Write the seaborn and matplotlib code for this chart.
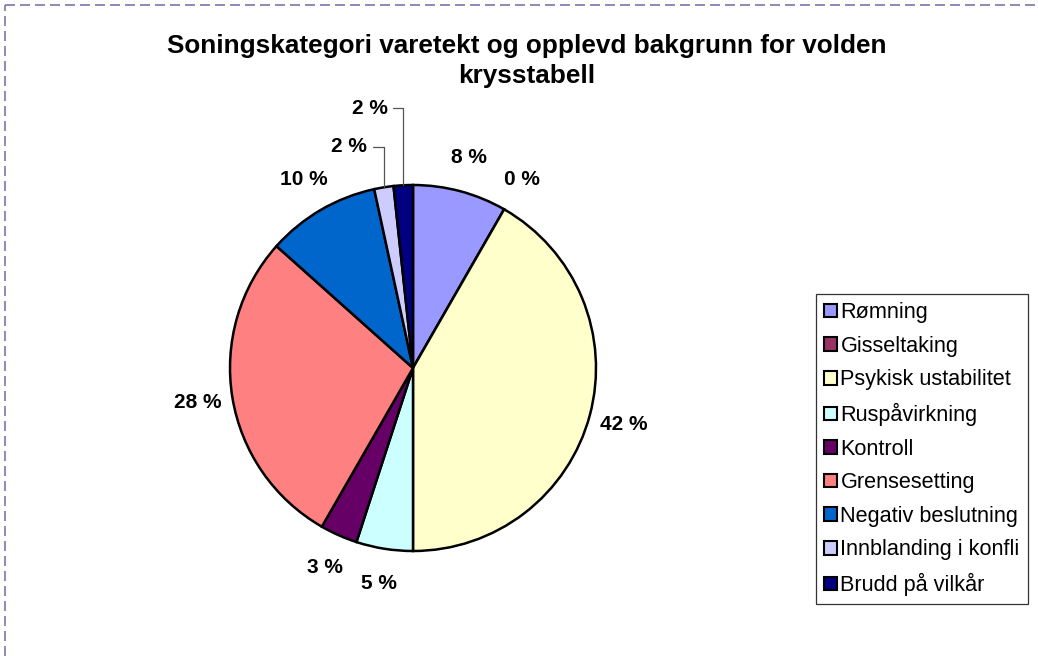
import numpy as np
import matplotlib
matplotlib.use("Agg")
import matplotlib.pyplot as plt
from matplotlib.lines import Line2D
import seaborn as sns

sns.set_style("white")
plt.rcParams['font.family'] = ['Liberation Sans', 'DejaVu Sans']
plt.rcParams['text.color'] = 'black'

# data (share of cases, %)
categories = ['Rømning', 'Gisseltaking', 'Psykisk ustabilitet', 'Ruspåvirkning',
              'Kontroll', 'Grensesetting', 'Negativ beslutning',
              'Innblanding i konfli', 'Brudd på vilkår']
shares = [8.3, 0.0, 41.7, 5.0, 3.3, 28.3, 10.0, 1.7, 1.7]
colors = ['#9999ff', '#993366', '#ffffcc', '#ccffff', '#660066',
          '#ff8080', '#0066cc', '#ccccff', '#000080']

W, H = 1038, 656
fig = plt.figure(figsize=(W / 100, H / 100), dpi=100)

# pie centre / radius in pixels
cx, cy, R = 413, 368, 183
half = 250
ax = fig.add_axes([(cx - half) / W, (H - cy - half) / H, 2 * half / W, 2 * half / H])
lim = half / R

lbl_size = 15
wedges, texts, autotexts = ax.pie(
    shares, colors=colors, startangle=90, counterclock=False,
    autopct=lambda p: f'{p:.0f} %', pctdistance=1.19,
    wedgeprops=dict(edgecolor='black', linewidth=1.8),
    textprops=dict(fontsize=lbl_size, fontweight='bold', color='black'))
ax.set_xlim(-lim, lim)
ax.set_ylim(-lim, lim)
ax.set_aspect('equal')
ax.axis('off')

# the two thin slices at the top get pulled-out labels with leader lines
offsets = {7: (-0.25, 1.21), 8: (-0.14, 1.42)}
for i, (lx, ly) in offsets.items():
    w = wedges[i]
    mid = np.deg2rad((w.theta1 + w.theta2) / 2)
    ex, ey = np.cos(mid), np.sin(mid)
    autotexts[i].set_visible(False)
    ax.annotate(f'{shares[i]:.0f} %', xy=(ex, ey), xytext=(lx, ly),
                ha='right', va='center', fontsize=lbl_size, fontweight='bold',
                arrowprops=dict(arrowstyle='-', color='#555555', lw=0.9,
                                shrinkA=2, shrinkB=0,
                                connectionstyle='angle,angleA=0,angleB=90,rad=0'),
                annotation_clip=False)

fig.text(527 / W, 1 - 61 / H,
         'Soningskategori varetekt og opplevd bakgrunn for volden\nkrysstabell',
         ha='center', va='center', fontsize=18.8, fontweight='bold',
         linespacing=1.3)

leg = fig.legend(wedges, categories, loc='upper left',
                 bbox_to_anchor=(816 / W, 1 - 294 / H),
                 frameon=True, fancybox=False, edgecolor='black',
                 fontsize=15.6, handlelength=0.6, handleheight=0.6,
                 handletextpad=0.15, labelspacing=0.58, borderpad=0.38,
                 borderaxespad=0)
leg.get_frame().set_linewidth(0.9)
for h in leg.legend_handles:
    h.set_edgecolor('black')
    h.set_linewidth(1.5)

# dashed chart-area border (top and left visible)
fig.add_artist(Line2D([5 / W, 1], [1 - 5 / H, 1 - 5 / H], color='#7777aa',
                      lw=1.2, ls=(0, (6, 3))))
fig.add_artist(Line2D([5 / W, 5 / W], [0, 1 - 5 / H], color='#7777aa',
                      lw=1.2, ls=(0, (6, 3))))

fig.savefig('out.png', dpi=100)
